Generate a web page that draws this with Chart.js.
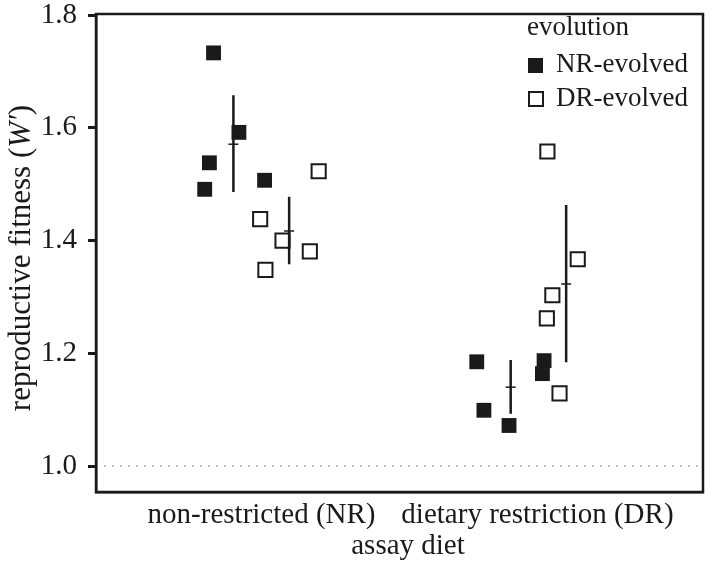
<!DOCTYPE html>
<html>
<head>
<meta charset="utf-8">
<script src="https://cdn.jsdelivr.net/npm/chart.js@4"></script>
<style>
  html, body { margin: 0; padding: 0; background: #fff; }
  #wrap { width: 715px; height: 567px; }
</style>
</head>
<body>
<div id="wrap"><canvas id="chart"></canvas></div>
<script>
// --- data ---
const categories = ['non-restricted (NR)', 'dietary restriction (DR)'];
const yTicks = [1.0, 1.2, 1.4, 1.6, 1.8];

// NR-evolved (filled), jittered x around category 1 / 2
const nrEvolvedX = [0.826, 0.918, 0.811, 0.794, 1.011, 1.780, 2.024, 2.018, 1.806, 1.897];
const nrEvolvedY = [1.733, 1.592, 1.538, 1.491, 1.507, 1.185, 1.187, 1.164, 1.099, 1.072];

// DR-evolved (open)
const drEvolvedX = [1.207, 0.995, 1.076, 1.175, 1.014, 2.036, 2.146, 2.054, 2.034, 2.080];
const drEvolvedY = [1.523, 1.438, 1.400, 1.381, 1.348, 1.558, 1.367, 1.303, 1.262, 1.129];

// mean +/- error bars
const barX    = [0.898, 1.100, 1.903, 2.104];
const barMean = [1.571, 1.417, 1.140, 1.323];
const barLow  = [1.486, 1.358, 1.093, 1.184];
const barHigh = [1.658, 1.478, 1.188, 1.463];

const FONT = '"Liberation Serif", "Times New Roman", serif';
const INK = '#1a1a1a';

const pts = (xs, ys) => xs.map((x, i) => ({ x, y: ys[i] }));
const errSegments = [];
barX.forEach((x, i) => {
  errSegments.push({ x, y: barLow[i] }, { x, y: barHigh[i] }, { x, y: null });
});

// titles, frame and legend
const decor = {
  id: 'decor',
  afterDraw(chart) {
    const { ctx, chartArea: a } = chart;
    ctx.save();
    ctx.strokeStyle = INK;
    ctx.lineWidth = 2.5;
    ctx.strokeRect(a.left, a.top, a.right - a.left, a.bottom - a.top);

    ctx.fillStyle = INK;
    ctx.textBaseline = 'middle';
    // x title
    ctx.font = '29px ' + FONT;
    ctx.textAlign = 'center';
    ctx.fillText('assay diet', 408, 546);

    // y title with italic W′
    ctx.translate(22, 258);
    ctx.rotate(-Math.PI / 2);
    const p1 = 'reproductive fitness (', p2 = 'W\u2032', p3 = ')';
    const sz = '31px ';
    ctx.font = sz + FONT;
    const w1 = ctx.measureText(p1).width, w3 = ctx.measureText(p3).width;
    ctx.font = 'italic ' + sz + FONT;
    const w2 = ctx.measureText(p2).width;
    let x0 = -(w1 + w2 + w3) / 2;
    ctx.textAlign = 'left';
    ctx.font = sz + FONT;
    ctx.fillText(p1, x0, 0);
    ctx.font = 'italic ' + sz + FONT;
    ctx.fillText(p2, x0 + w1, 0);
    ctx.font = sz + FONT;
    ctx.fillText(p3, x0 + w1 + w2, 0);
    ctx.restore();

    // legend
    ctx.save();
    ctx.fillStyle = INK;
    ctx.textBaseline = 'middle';
    ctx.textAlign = 'left';
    ctx.font = '27px ' + FONT;
    ctx.fillText('evolution', 527, 28);
    ctx.fillText('NR-evolved', 556, 65);
    ctx.fillText('DR-evolved', 556, 99);
    ctx.fillRect(528, 58, 15, 15);
    ctx.strokeStyle = INK;
    ctx.lineWidth = 2;
    ctx.strokeRect(529, 92, 14, 14);
    ctx.restore();
  }
};

new Chart(document.getElementById('chart'), {
  type: 'scatter',
  data: {
    datasets: [
      {
        label: 'mean',
        data: pts(barX, barMean),
        pointStyle: 'line',
        pointRadius: 5,
        borderWidth: 1.5,
        borderColor: INK,
        order: 0,
      },
      {
        label: 'error',
        data: errSegments,
        showLine: true,
        spanGaps: false,
        pointRadius: 0,
        borderWidth: 2.5,
        borderColor: INK,
        order: 0,
      },
      {
        label: 'NR-evolved',
        data: pts(nrEvolvedX, nrEvolvedY),
        pointStyle: 'rect',
        pointRadius: 10.5,
        backgroundColor: INK,
        borderWidth: 0,
        order: 2,
      },
      {
        label: 'DR-evolved',
        data: pts(drEvolvedX, drEvolvedY),
        pointStyle: 'rect',
        pointRadius: 10,
        backgroundColor: '#fff',
        borderColor: INK,
        borderWidth: 2,
        order: 1,
      },
      {
        label: 'ref',
        data: [{ x: 0.4, y: 1 }, { x: 2.6, y: 1 }],
        showLine: true,
        pointRadius: 0,
        borderWidth: 1.5,
        borderColor: '#9a9a9a',
        borderDash: [1.5, 6.5],
        order: 3,
      },
    ],
  },
  options: {
    responsive: true,
    maintainAspectRatio: false,
    animation: false,
    events: [],
    layout: { padding: { top: 14, right: 4, left: 0, bottom: 0 } },
    plugins: { legend: { display: false }, tooltip: { enabled: false } },
    scales: {
      x: {
        type: 'linear',
        min: 0.4, max: 2.6,
        afterBuildTicks: (s) => { s.ticks = [{ value: 1 }, { value: 2 }]; },
        afterFit: (s) => { s.height = 75; s.paddingLeft = 0; s.paddingRight = 0; },
        ticks: {
          color: INK, padding: 6, maxRotation: 0, autoSkip: false,
          font: { family: FONT, size: 29 },
          callback: (v) => categories[v - 1],
        },
        grid: { drawOnChartArea: false, drawTicks: false },
        border: { display: true, color: INK, width: 2.5 },
      },
      y: {
        min: 0.954, max: 1.802,
        afterBuildTicks: (s) => { s.ticks = yTicks.map(v => ({ value: v })); },
        afterFit: (s) => { s.width = 96; s.paddingTop = 0; s.paddingBottom = 0; },
        ticks: {
          color: INK, padding: 11,
          font: { family: FONT, size: 29 },
          callback: (v) => v.toFixed(1),
        },
        grid: { drawOnChartArea: false, drawTicks: true, tickLength: 8, tickWidth: 3, tickColor: INK },
        border: { display: true, color: INK, width: 2.5 },
      },
    },
  },
  plugins: [decor],
});
</script>
</body>
</html>
